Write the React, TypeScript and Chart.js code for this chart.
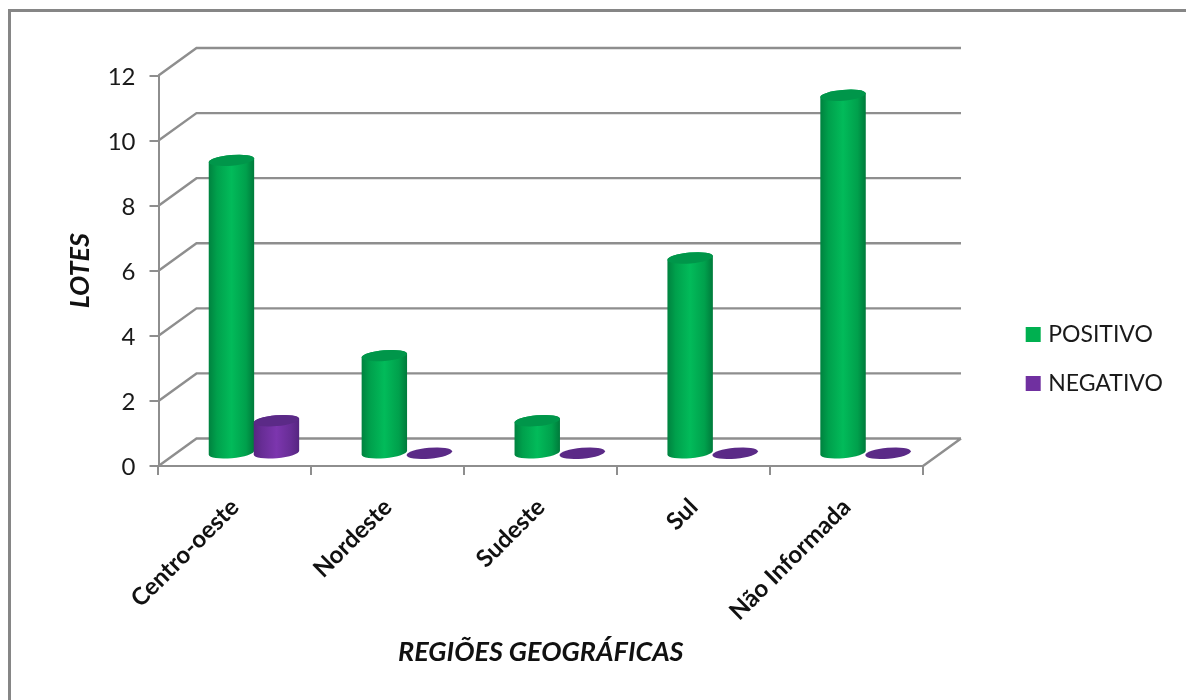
import React, { useEffect, useRef } from "react";
import { Chart, BarController, BarElement, registerables } from "chart.js";

const categories = ["Centro-oeste", "Nordeste", "Sudeste", "Sul", "Não Informada"];
const positivo = [9, 3, 1, 6, 11];
const negativo = [1, 0, 0, 0, 0];

const GREEN = "#00B050";
const PURPLE = "#7030A0";
const AXIS_GRAY = "#8e8e8e";

// Offset of the back wall relative to the front plane of the 3D box.
const DEPTH_X = 38;
const DEPTH_Y = -27.5;

const SHADES: Record<string, { stops: [number, string][]; cap: string }> = {
  [GREEN]: {
    stops: [
      [0, "#00823f"],
      [0.18, "#00a04c"],
      [0.5, "#02bb5a"],
      [0.82, "#00a04c"],
      [1, "#007a3b"],
    ],
    cap: "#00964a",
  },
  [PURPLE]: {
    stops: [
      [0, "#572681"],
      [0.18, "#672d95"],
      [0.5, "#7c36ae"],
      [0.82, "#672d95"],
      [1, "#552580"],
    ],
    cap: "#5b2a87",
  },
};

// A bar rendered as an upright cylinder standing halfway into the box depth.
class CylinderElement extends BarElement {
  static id = "cylinder";

  draw(ctx: CanvasRenderingContext2D) {
    const { x, y, base, width } = (this as any).getProps(["x", "y", "base", "width"]);
    const color = (this as any).options.backgroundColor as string;
    const shade = SHADES[color];
    const cx = x + DEPTH_X / 2;
    const topY = y + DEPTH_Y / 2 + 1;
    const bottomY = base + DEPTH_Y / 2 + 1.5;
    const a = width / 2 + 0.3;
    const b = 5.4;
    const tilt = (-5 * Math.PI) / 180;

    ctx.save();
    if (base - y > 0.5) {
      const grad = ctx.createLinearGradient(cx - a, 0, cx + a, 0);
      shade.stops.forEach(([p, c]) => grad.addColorStop(p, c));
      ctx.beginPath();
      ctx.ellipse(cx, bottomY, a, b, tilt, 0, Math.PI);
      ctx.ellipse(cx, topY, a, b, tilt, Math.PI, Math.PI * 2);
      ctx.closePath();
      ctx.fillStyle = grad;
      ctx.fill();
    }
    ctx.beginPath();
    ctx.ellipse(cx, topY, a, b, tilt, 0, Math.PI * 2);
    ctx.fillStyle = shade.cap;
    ctx.fill();
    ctx.restore();
  }
}

class CylinderController extends BarController {
  static id = "cylinder";
  static defaults = { ...BarController.defaults, dataElementType: "cylinder" };
}

Chart.register(...registerables, CylinderElement, CylinderController);

// Frame, perspective gridlines, and the paint order of the two series.
const boxPlugin = {
  id: "box3d",
  beforeDraw(chart: any) {
    const { ctx, width, height } = chart;
    ctx.save();
    ctx.fillStyle = "#ffffff";
    ctx.fillRect(0, 0, width, height);
    ctx.strokeStyle = "#868686";
    ctx.lineWidth = 3;
    ctx.beginPath();
    ctx.moveTo(9.5, height);
    ctx.lineTo(9.5, 10.5);
    ctx.lineTo(width, 10.5);
    ctx.stroke();
    ctx.restore();
  },
  afterLayout(chart: any) {
    const lg = chart.legend;
    const w = lg.width;
    const h = lg.height;
    lg.left = 1029.7 - lg.options.labels.padding;
    lg.right = lg.left + w;
    lg.top = 323 - lg.options.labels.padding;
    lg.bottom = lg.top + h;
  },
  beforeDatasetsDraw(chart: any) {
    const { ctx, chartArea, scales } = chart;
    const { left, right, bottom } = chartArea;
    ctx.save();
    ctx.strokeStyle = AXIS_GRAY;
    ctx.lineWidth = 2.4;
    ctx.beginPath();
    scales.y.ticks.forEach((t: any) => {
      const y = scales.y.getPixelForValue(t.value);
      ctx.moveTo(left, y);
      ctx.lineTo(left + DEPTH_X, y + DEPTH_Y);
      ctx.lineTo(right + DEPTH_X, y + DEPTH_Y);
    });
    ctx.moveTo(right, bottom);
    ctx.lineTo(right + DEPTH_X, bottom + DEPTH_Y);
    ctx.stroke();
    ctx.restore();
  },
  beforeDatasetDraw(_chart: any, args: any) {
    // The second series is painted last so it overlaps the first.
    if (args.index === 1) return false;
    return undefined;
  },
  afterDatasetsDraw(chart: any) {
    chart.getDatasetMeta(1).data.forEach((el: any) => el.draw(chart.ctx));
  },
};

export default function App() {
  const ref = useRef<HTMLCanvasElement>(null);

  useEffect(() => {
    const chart = new Chart(ref.current!, {
      type: "cylinder" as any,
      data: {
        labels: categories,
        datasets: [
          { label: "POSITIVO", data: positivo, backgroundColor: GREEN, barThickness: 45, clip: false } as any,
          { label: "NEGATIVO", data: negativo, backgroundColor: PURPLE, barThickness: 45, clip: false } as any,
        ],
      },
      options: {
        animation: false,
        responsive: false,
        events: [],
        layout: { padding: { top: 75.5, right: 263, bottom: 0, left: 0 } },
        plugins: {
          tooltip: { enabled: false },
          legend: {
            position: "chartArea" as any,
            align: "start",
            labels: {
              color: "#1a1a1a",
              font: { family: "Lato", size: 23 },
              boxWidth: 7,
              boxHeight: 7,
              padding: 26,
              generateLabels: (chart: any) =>
                chart.data.datasets.map((d: any, i: number) => ({
                  text: d.label,
                  fillStyle: d.backgroundColor,
                  strokeStyle: d.backgroundColor,
                  lineWidth: 8,
                  lineJoin: "miter",
                  fontColor: "#1a1a1a",
                  datasetIndex: i,
                })),
            },
          },
        },
        scales: {
          x: {
            type: "category",
            offset: true,
            afterFit: (s: any) => {
              s.height = 234;
            },
            border: { color: AXIS_GRAY, width: 2 },
            grid: { offset: true, drawOnChartArea: false, drawTicks: true, tickLength: 9, color: AXIS_GRAY, lineWidth: 2 },
            ticks: {
              autoSkip: false,
              minRotation: 45,
              maxRotation: 45,
              padding: 18,
              color: "#111111",
              font: { family: "Lato", size: 24, weight: "bold" },
            },
            title: {
              display: true,
              text: "REGIÕES GEOGRÁFICAS",
              color: "#111111",
              font: { family: "Lato", size: 27, weight: "bold", style: "italic" },
              padding: { top: 0, bottom: 32 },
            },
          },
          y: {
            type: "linear",
            min: 0,
            max: 12,
            afterFit: (s: any) => {
              s.width = 158.5;
            },
            border: { color: AXIS_GRAY, width: 2 },
            grid: { drawOnChartArea: false, drawTicks: true, tickLength: 9, color: AXIS_GRAY, lineWidth: 2 },
            ticks: {
              stepSize: 2,
              padding: 14,
              labelOffset: 1.5,
              color: "#1a1a1a",
              font: { family: "Lato", size: 24 },
            },
            title: {
              display: true,
              text: "LOTES",
              color: "#111111",
              font: { family: "Lato", size: 27, weight: "bold", style: "italic" },
              padding: { top: 64, bottom: 0 },
            },
          },
        },
      },
      plugins: [boxPlugin],
    } as any);
    return () => chart.destroy();
  }, []);

  return (
    <div style={{ position: "fixed", left: 0, top: 0, width: 1186, height: 700 }}>
      <canvas ref={ref} width={1186} height={700} style={{ display: "block" }} />
    </div>
  );
}
